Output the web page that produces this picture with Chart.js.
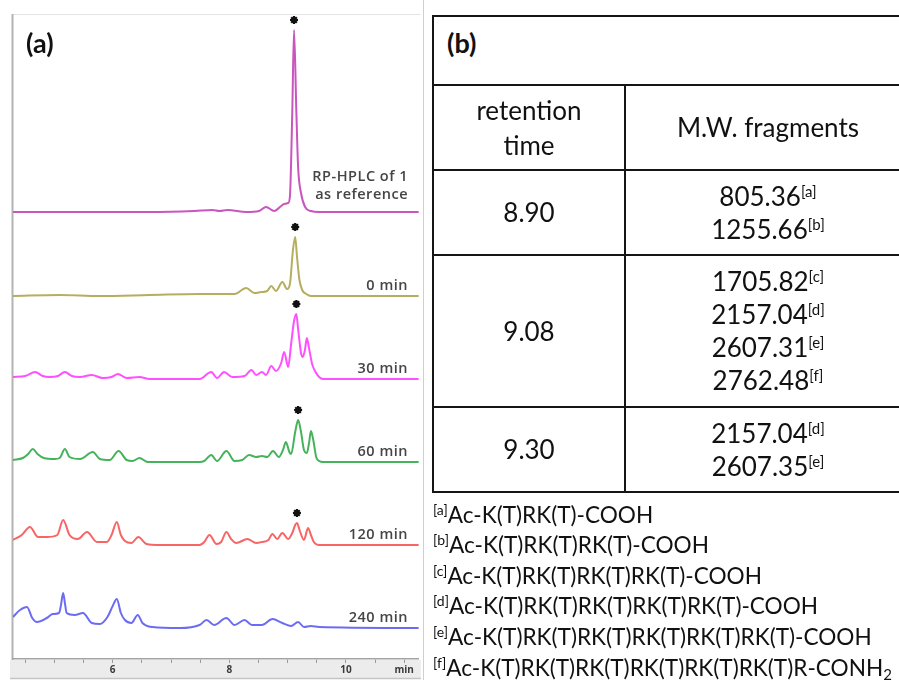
<!DOCTYPE html>
<html><head><meta charset="utf-8">
<script src="https://cdn.jsdelivr.net/npm/chart.js@4.4.0/dist/chart.umd.min.js"></script>
<style>
html,body{margin:0;padding:0;background:#fff;width:899px;height:680px;overflow:hidden;}
#wrap{position:relative;width:899px;height:680px;overflow:hidden;font-family:Lato,"Open Sans",sans-serif;color:#111;}
#c{position:absolute;left:0;top:0;}
.abs{position:absolute;white-space:nowrap;}
.hl{position:absolute;height:2px;background:#151515;}
.vl{position:absolute;width:2px;background:#151515;}
.cell{position:absolute;display:flex;flex-direction:column;align-items:center;justify-content:center;text-align:center;font-size:26px;}
.cell div{white-space:nowrap;}
sup.n{font-size:15px;line-height:0;vertical-align:9px;}
.fn{position:absolute;left:433px;font-size:22.6px;white-space:nowrap;line-height:30.6px;}
.fn sup.n{font-size:14px;vertical-align:8px;}
sub.s{font-size:15px;line-height:0;vertical-align:-4px;}
</style></head><body>
<div id="wrap">
  <canvas id="c" width="425" height="680"></canvas>
  <div class="abs" style="left:26px;top:26px;font-weight:bold;font-size:27px;">(a)</div>
  <div class="abs" style="left:423px;top:0;width:1px;height:680px;background:#cfcfcf;"></div>
  <div id="tbl"></div>
</div>
<script>
// ---------- chromatogram data (time in min, detector signal, arbitrary units) ----------
const traceNames = ["RP-HPLC of 1|as reference", "0 min", "30 min", "60 min", "120 min", "240 min"];
const traceColors = ["#c955bf", "#b4ae5e", "#ff50ff", "#47b25c", "#f86565", "#6c6cf2"];
const traceOffsets = [447, 363, 280, 197, 114, 31];

const tRef  = [4.29,6.63,7.40,7.71,7.83,7.97,8.29,8.51,8.63,8.77,8.89,8.94,9.01,9.04,9.08,9.11,9.15,9.18,9.23,9.30,9.40,9.54,11.25];
const sRef  = [0,0,1,2,1,2,0,1,5,1,6,8,9,16,100,182,100,45,19,5,1,0,0];

const t0    = [4.29,5.09,5.78,6.63,7.49,8.09,8.29,8.43,8.55,8.65,8.72,8.80,8.91,8.99,9.04,9.09,9.13,9.16,9.20,9.25,9.32,9.40,11.25];
const s0    = [0,1,0,1,2,2,8,3,4,5,10,5,14,7,12,45,59,40,17,6,2,0,0];

const t30   = [4.29,4.50,4.67,4.80,4.92,5.06,5.18,5.30,5.44,5.64,5.83,5.98,6.09,6.24,6.46,6.63,7.49,7.69,7.79,7.91,8.05,8.26,8.38,8.46,8.56,8.63,8.72,8.80,8.89,8.94,9.01,9.06,9.11,9.15,9.18,9.23,9.26,9.30,9.33,9.37,9.42,9.47,9.54,9.61,11.25];
const s30   = [2,3,7,3,2,3,7,3,2,4,1,2,5,1,2,0,0,7,1,7,2,3,9,4,7,4,13,8,16,27,12,35,58,65,50,26,22,30,41,30,15,8,2,0,0];

const t60   = [4.29,4.46,4.55,4.63,4.71,4.82,5.01,5.09,5.18,5.26,5.44,5.66,5.78,5.95,6.10,6.24,6.34,6.46,6.60,7.49,7.57,7.69,7.79,7.95,8.09,8.22,8.34,8.46,8.56,8.65,8.75,8.85,8.92,8.97,9.03,9.06,9.13,9.18,9.23,9.28,9.33,9.37,9.40,9.44,9.49,9.54,9.61,11.25];
const s60   = [2,4,8,13,8,4,3,4,13,5,3,10,3,2,11,2,1,4,0,0,1,7,1,11,1,2,7,5,6,5,11,5,12,20,10,8,30,42,30,12,9,20,31,22,5,1,0,0];

const t120  = [4.29,4.44,4.58,4.72,4.87,5.05,5.15,5.26,5.40,5.56,5.73,5.90,5.98,6.07,6.14,6.21,6.32,6.44,6.58,6.80,7.49,7.57,7.66,7.78,7.86,7.95,8.03,8.12,8.31,8.46,8.56,8.67,8.74,8.82,8.91,9.01,9.08,9.13,9.16,9.21,9.28,9.35,9.40,9.45,9.54,11.25];
const s120  = [5,10,18,8,8,10,25,10,6,13,3,3,10,23,10,4,2,8,1,0,0,3,10,1,3,13,6,2,6,2,3,5,11,6,12,6,12,20,22,14,5,17,10,3,0,0];

const t240  = [4.29,4.41,4.53,4.62,4.70,4.87,4.97,5.08,5.11,5.15,5.18,5.21,5.35,5.49,5.64,5.78,5.91,6.00,6.07,6.14,6.21,6.32,6.43,6.51,6.68,7.15,7.49,7.61,7.74,7.95,8.09,8.26,8.39,8.56,8.74,8.91,9.06,9.18,9.28,9.40,9.54,11.25];
const s240  = [11,18,21,10,6,10,14,15,22,35,25,15,13,15,5,4,11,22,29,15,8,5,13,5,1,0,3,8,3,10,3,8,3,3,9,5,2,6,1,2,1,0];

const traceTimes   = [tRef, t0, t30, t60, t120, t240];
const traceSignals = [sRef, s0, s30, s60, s120, s240];
const starTimes    = [9.11, 9.13, 9.15, 9.18, 9.16, null];   // peaks marked with *

// x axis
const xMin = 4.29, xMax = 11.25;
const tickValues = [4.5,5,5.5,6,6.5,7,7.5,8,8.5,9,9.5,10,10.5,11];
const tickLabels = ["","","","6","","","","8","","","","10","","min"];

// ---------- table data ----------
const tableTitle = "(b)";
const headRetention = ["retention", "time"];
const headFragments = "M.W. fragments";
const retentionTimes = ["8.90", "9.08", "9.30"];
const fragmentValues = [["805.36","1255.66"], ["1705.82","2157.04","2607.31","2762.48"], ["2157.04","2607.35"]];
const fragmentNotes  = [["a","b"], ["c","d","e","f"], ["d","e"]];
const noteKeys = ["a","b","c","d","e","f"];
const noteTexts = ["Ac-K(T)RK(T)-COOH", "Ac-K(T)RK(T)RK(T)-COOH", "Ac-K(T)RK(T)RK(T)RK(T)-COOH",
  "Ac-K(T)RK(T)RK(T)RK(T)RK(T)-COOH", "Ac-K(T)RK(T)RK(T)RK(T)RK(T)RK(T)-COOH",
  "Ac-K(T)RK(T)RK(T)RK(T)RK(T)RK(T)R-CONH_2"];

// ---------- chart ----------
const datasets = traceTimes.map((ts, i) => ({
  label: traceNames[i],
  data: ts.map((t, k) => ({x: t, y: traceOffsets[i] + traceSignals[i][k]})),
  borderColor: traceColors[i], borderWidth: 2, pointRadius: 0,
  cubicInterpolationMode: 'monotone', fill: false
}));
function signalAt(i, t) {
  const ts = traceTimes[i]; let best = 0, bd = 1e9;
  ts.forEach((v, k) => { const d = Math.abs(v - t); if (d < bd) { bd = d; best = k; } });
  return traceSignals[i][best];
}
const starData = [];
starTimes.forEach((t, i) => { if (t !== null) starData.push({x: t, y: traceOffsets[i] + signalAt(i, t) + 10}); });
datasets.push({
  label: 'stars', data: starData, showLine: false,
  pointStyle: 'star', pointRadius: 4, borderColor: '#111', backgroundColor: '#111', pointBorderWidth: 2.2
});

const framePlugin = {
  id: 'frame',
  beforeDraw(chart) {
    const ctx = chart.ctx, a = chart.chartArea;
    ctx.save();
    ctx.fillStyle = '#ececec';
    ctx.fillRect(10, a.bottom + 1, a.right - 8, 680 - a.bottom - 3);
    ctx.strokeStyle = '#c4c4c4'; ctx.lineWidth = 1.5;
    ctx.beginPath(); ctx.moveTo(10, 678.5); ctx.lineTo(a.right + 2, 678.5); ctx.stroke();
    ctx.strokeStyle = '#e4e4e4'; ctx.lineWidth = 1;
    ctx.beginPath(); ctx.moveTo(12, 14.5); ctx.lineTo(a.right + 2, 14.5); ctx.stroke();
    ctx.strokeStyle = '#b3b3b3'; ctx.lineWidth = 2;
    ctx.beginPath(); ctx.moveTo(12.5, 14); ctx.lineTo(12.5, a.bottom + 1); ctx.stroke();
    ctx.restore();
  },
  afterDatasetsDraw(chart) {
    const ctx = chart.ctx, y = chart.scales.y;
    ctx.save();
    ctx.fillStyle = '#454545';
    ctx.font = '600 14.5px "Open Sans"';
    if ('letterSpacing' in ctx) ctx.letterSpacing = '0.5px';
    ctx.textAlign = 'right'; ctx.textBaseline = 'middle';
    traceNames.forEach((name, i) => {
      const base = y.getPixelForValue(traceOffsets[i]);
      const lines = name.split('|');
      const lastY = base - (lines.length > 1 ? 17 : 10);
      lines.forEach((ln, k) => {
        ctx.fillText(ln, 408, lastY - (lines.length - 1 - k) * 18);
      });
    });
    ctx.restore();
  }
};

new Chart(document.getElementById('c'), {
  type: 'line',
  data: { datasets },
  options: {
    responsive: false, animation: false, devicePixelRatio: 1,
    layout: { padding: { left: 13, right: 5, top: 14, bottom: 0 } },
    plugins: { legend: { display: false }, tooltip: { enabled: false } },
    scales: {
      x: {
        type: 'linear', min: xMin, max: xMax,
        afterBuildTicks: s => { s.ticks = tickValues.map(v => ({ value: v })); },
        afterFit: s => { s.height = 21; },
        grid: { drawOnChartArea: false, drawTicks: true, tickLength: 4, color: '#9a9a9a' },
        border: { display: true, color: '#a3a3a3', width: 1.5 },
        ticks: { autoSkip: false, maxRotation: 0, padding: 1, color: '#3a3a3a',
          font: { family: 'Open Sans', size: 10, weight: 'bold' },
          callback: (v, idx) => tickLabels[idx] }
      },
      y: { display: false, min: 0, max: 645 }
    }
  },
  plugins: [framePlugin]
});

// ---------- table (panel b) ----------
const tbl = document.getElementById('tbl');
const L = 433, R = 911, C = 625;
const rowLines = [16, 85, 170, 255, 407, 492];
function add(html) { tbl.insertAdjacentHTML('beforeend', html); }
rowLines.forEach(yv => add(`<div class="hl" style="left:${L}px;top:${yv - 1}px;width:${R - L}px"></div>`));
add(`<div class="vl" style="left:${L - 1}px;top:${rowLines[0] - 1}px;height:${rowLines[5] - rowLines[0] + 2}px"></div>`);
add(`<div class="vl" style="left:${C - 1}px;top:${rowLines[1]}px;height:${rowLines[5] - rowLines[1]}px"></div>`);
add(`<div class="abs" style="left:447px;top:26px;font-weight:bold;font-size:27px;">${tableTitle}</div>`);
add(`<div class="cell" style="left:${L}px;top:${rowLines[1]}px;width:${C - L}px;height:${rowLines[2] - rowLines[1]}px;line-height:35px">${headRetention.map(s => `<div>${s}</div>`).join('')}</div>`);
add(`<div class="cell" style="left:${C}px;top:${rowLines[1]}px;width:${R - C}px;height:${rowLines[2] - rowLines[1]}px;line-height:35px"><div>${headFragments}</div></div>`);
retentionTimes.forEach((rt, i) => {
  const top = rowLines[i + 2], h = rowLines[i + 3] - top;
  add(`<div class="cell" style="left:${L}px;top:${top}px;width:${C - L}px;height:${h}px;line-height:33px"><div>${rt}</div></div>`);
  const lines = fragmentValues[i].map((v, k) => `<div>${v}<sup class="n">[${fragmentNotes[i][k]}]</sup></div>`).join('');
  add(`<div class="cell" style="left:${C}px;top:${top}px;width:${R - C}px;height:${h}px;line-height:33px">${lines}</div>`);
});
noteTexts.forEach((txt, i) => {
  const t = txt.replace(/_(\d)/, '<sub class="s">$1</sub>');
  add(`<div class="fn" style="top:${499.5 + i * 30.6}px"><sup class="n">[${noteKeys[i]}]</sup>${t}</div>`);
});
</script>
</body></html>
